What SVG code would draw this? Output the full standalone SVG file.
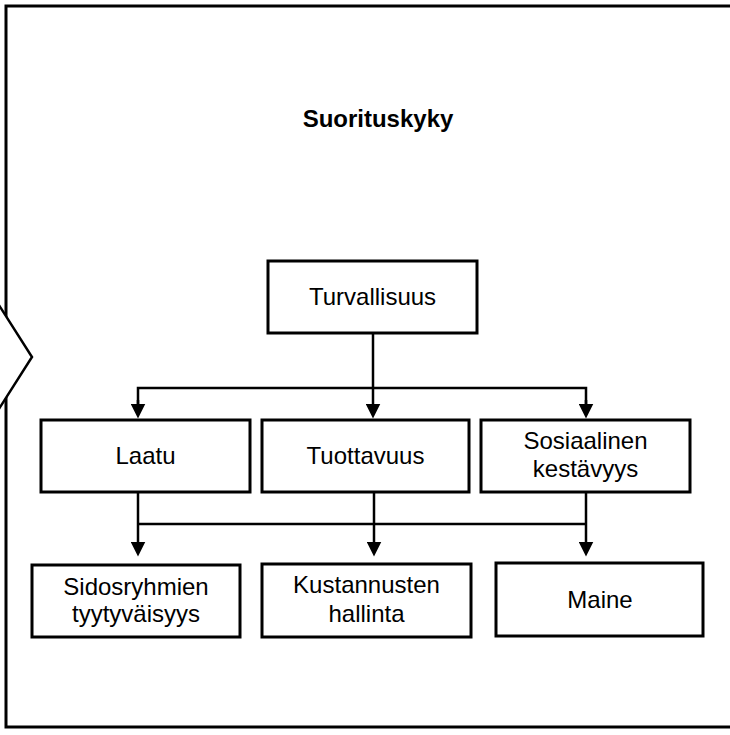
<svg xmlns="http://www.w3.org/2000/svg" width="730" height="735" viewBox="0 0 730 735">
<defs>
<style>
.frame{fill:none;stroke:#000;stroke-width:3}
.box{fill:#fff;stroke:#000;stroke-width:3}
.lbl{font-family:"Liberation Sans",Arial,sans-serif;font-size:24px;fill:#000;text-anchor:middle}
.title{font-family:"Liberation Sans",Arial,sans-serif;font-size:24px;font-weight:bold;fill:#000;text-anchor:middle}
.conn{fill:none;stroke:#000;stroke-width:2.5}
</style>
<marker id="ah" markerUnits="userSpaceOnUse" markerWidth="15" markerHeight="15" viewBox="0 0 15 15" refX="7.5" refY="7.5" orient="auto">
<path d="M0,0 L15,7.5 L0,15 z" fill="#000"/>
</marker>
</defs>
<rect width="730" height="735" fill="#fff"/>
<rect class="frame" x="6" y="6" width="740" height="721"/>
<polygon id="chevron" points="-10,291 32,357 -10,423" fill="#fff" stroke="#000" stroke-width="2.5"/>
<text class="title" x="378" y="127">Suorituskyky</text>
<g id="connectors">
<line class="conn" x1="373" y1="333" x2="373" y2="411" marker-end="url(#ah)"/>
<path class="conn" d="M138,411 V388 H586 V411"/>
<line class="conn" x1="138" y1="400" x2="138" y2="411" marker-end="url(#ah)"/>
<line class="conn" x1="586" y1="400" x2="586" y2="411" marker-end="url(#ah)"/>
<line class="conn" x1="138" y1="492" x2="138" y2="549" marker-end="url(#ah)"/>
<line class="conn" x1="374" y1="492" x2="374" y2="549" marker-end="url(#ah)"/>
<line class="conn" x1="586" y1="492" x2="586" y2="549" marker-end="url(#ah)"/>
<line class="conn" x1="138" y1="524" x2="586" y2="524"/>
</g>
<g id="turvallisuus">
<rect class="box" x="268" y="261" width="209" height="72"/>
<text class="lbl" x="372.5" y="305">Turvallisuus</text>
</g>
<g id="laatu">
<rect class="box" x="41" y="420" width="209" height="72"/>
<text class="lbl" x="145.5" y="464">Laatu</text>
</g>
<g id="tuottavuus">
<rect class="box" x="262" y="420" width="207" height="72"/>
<text class="lbl" x="365.5" y="464">Tuottavuus</text>
</g>
<g id="sosiaalinen">
<rect class="box" x="481" y="420" width="209" height="72"/>
<text class="lbl" x="585.5" y="449">Sosiaalinen</text>
<text class="lbl" x="585.5" y="477">kestävyys</text>
</g>
<g id="sidosryhmien">
<rect class="box" x="32" y="565" width="208" height="72"/>
<text class="lbl" x="136" y="595">Sidosryhmien</text>
<text class="lbl" x="136" y="622">tyytyväisyys</text>
</g>
<g id="kustannusten">
<rect class="box" x="262" y="564" width="209" height="73"/>
<text class="lbl" x="366.5" y="593">Kustannusten</text>
<text class="lbl" x="366.5" y="622">hallinta</text>
</g>
<g id="maine">
<rect class="box" x="496" y="563" width="207" height="73"/>
<text class="lbl" x="600" y="608">Maine</text>
</g>
</svg>
